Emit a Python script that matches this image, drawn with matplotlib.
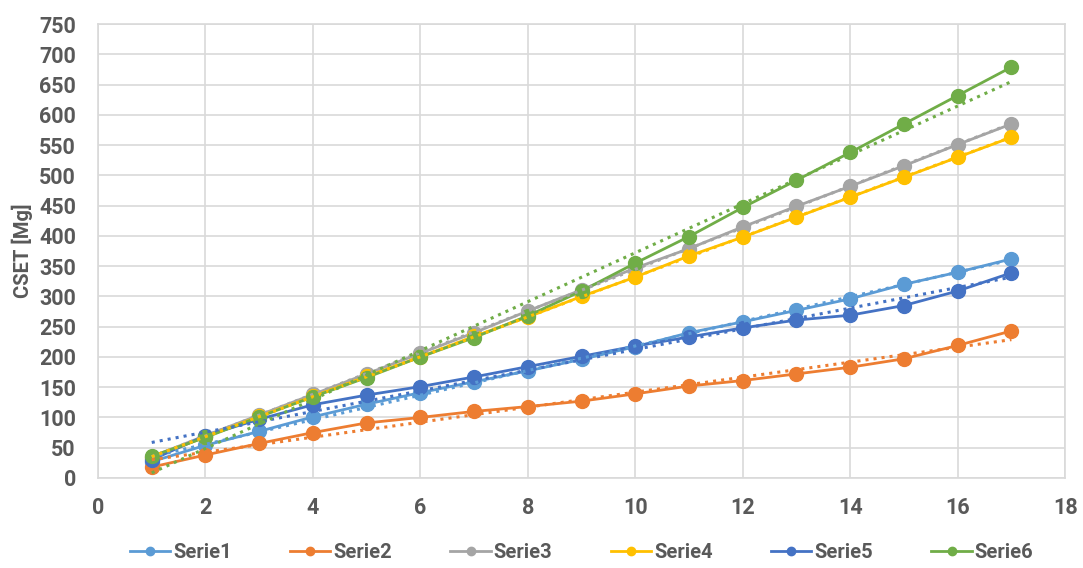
import numpy as np
import matplotlib.pyplot as plt

plt.rcParams['font.family'] = ['Roboto', 'DejaVu Sans']

x = np.arange(1, 18)

serie1 = [27, 54, 77, 101, 122, 141, 159, 177, 196, 217, 240, 258, 277, 296, 320, 340, 362]
serie2 = [18, 38, 57, 75, 91, 100, 110, 118, 127, 139, 152, 161, 172, 183, 197, 219, 243]
serie3 = [35, 70, 104, 138, 172, 206, 240, 276, 311, 347, 379, 415, 449, 482, 516, 551, 585]
serie4 = [33, 68, 102, 135, 168, 200, 234, 266, 300, 332, 367, 398, 431, 464, 497, 530, 563]
serie5 = [30, 70, 97, 121, 137, 151, 167, 184, 201, 218, 233, 248, 261, 269, 285, 309, 339]
serie6 = [36, 67, 101, 134, 166, 200, 232, 268, 309, 355, 399, 447, 492, 538, 585, 632, 679]

names = ['Serie1', 'Serie2', 'Serie3', 'Serie4', 'Serie5', 'Serie6']
colors = ['#5B9BD5', '#ED7D31', '#A5A5A5', '#FFC000', '#4472C4', '#70AD47']
series = [serie1, serie2, serie3, serie4, serie5, serie6]

fig = plt.figure(figsize=(10.83, 5.68), dpi=100)
ax = fig.add_axes([0.0905, 0.1585, 0.893, 0.799])

for name, col, y in zip(names, colors, series):
    ax.plot(x, y, '-o', color=col, lw=2.0, ms=10, label=name, zorder=3)

# linear trendlines
for col, y in zip(colors, series):
    k, b = np.polyfit(x, y, 1)
    ax.plot(x, k * x + b, ':', color=col, lw=2.2, zorder=4)

ax.set_xlim(0, 18)
ax.set_ylim(0, 750)
ax.set_xticks(np.arange(0, 19, 2))
ax.set_yticks(np.arange(0, 751, 50))
ax.grid(True, color='#D9D9D9', lw=1.2, zorder=0)
ax.set_axisbelow(True)
for s in ax.spines.values():
    s.set_color('#D9D9D9')
    s.set_linewidth(1.2)
ax.tick_params(length=0, labelsize=15.5, labelcolor='#595959')
ax.tick_params(axis='y', pad=16)
ax.tick_params(axis='x', pad=14)
for lab in ax.get_xticklabels() + ax.get_yticklabels():
    lab.set_fontweight('bold')

ax.set_ylabel('CSET [Mg]', fontsize=14.5, fontweight='bold', color='#595959', labelpad=4)

ax.legend(loc='center', bbox_to_anchor=(0.5, -0.165), ncol=6, frameon=False,
          prop={'size': 14.5, 'weight': 'bold'}, labelcolor='#595959',
          handlelength=2.0, markerscale=0.6, columnspacing=2.9, handletextpad=0.15)

fig.savefig('out.png', dpi=100)
